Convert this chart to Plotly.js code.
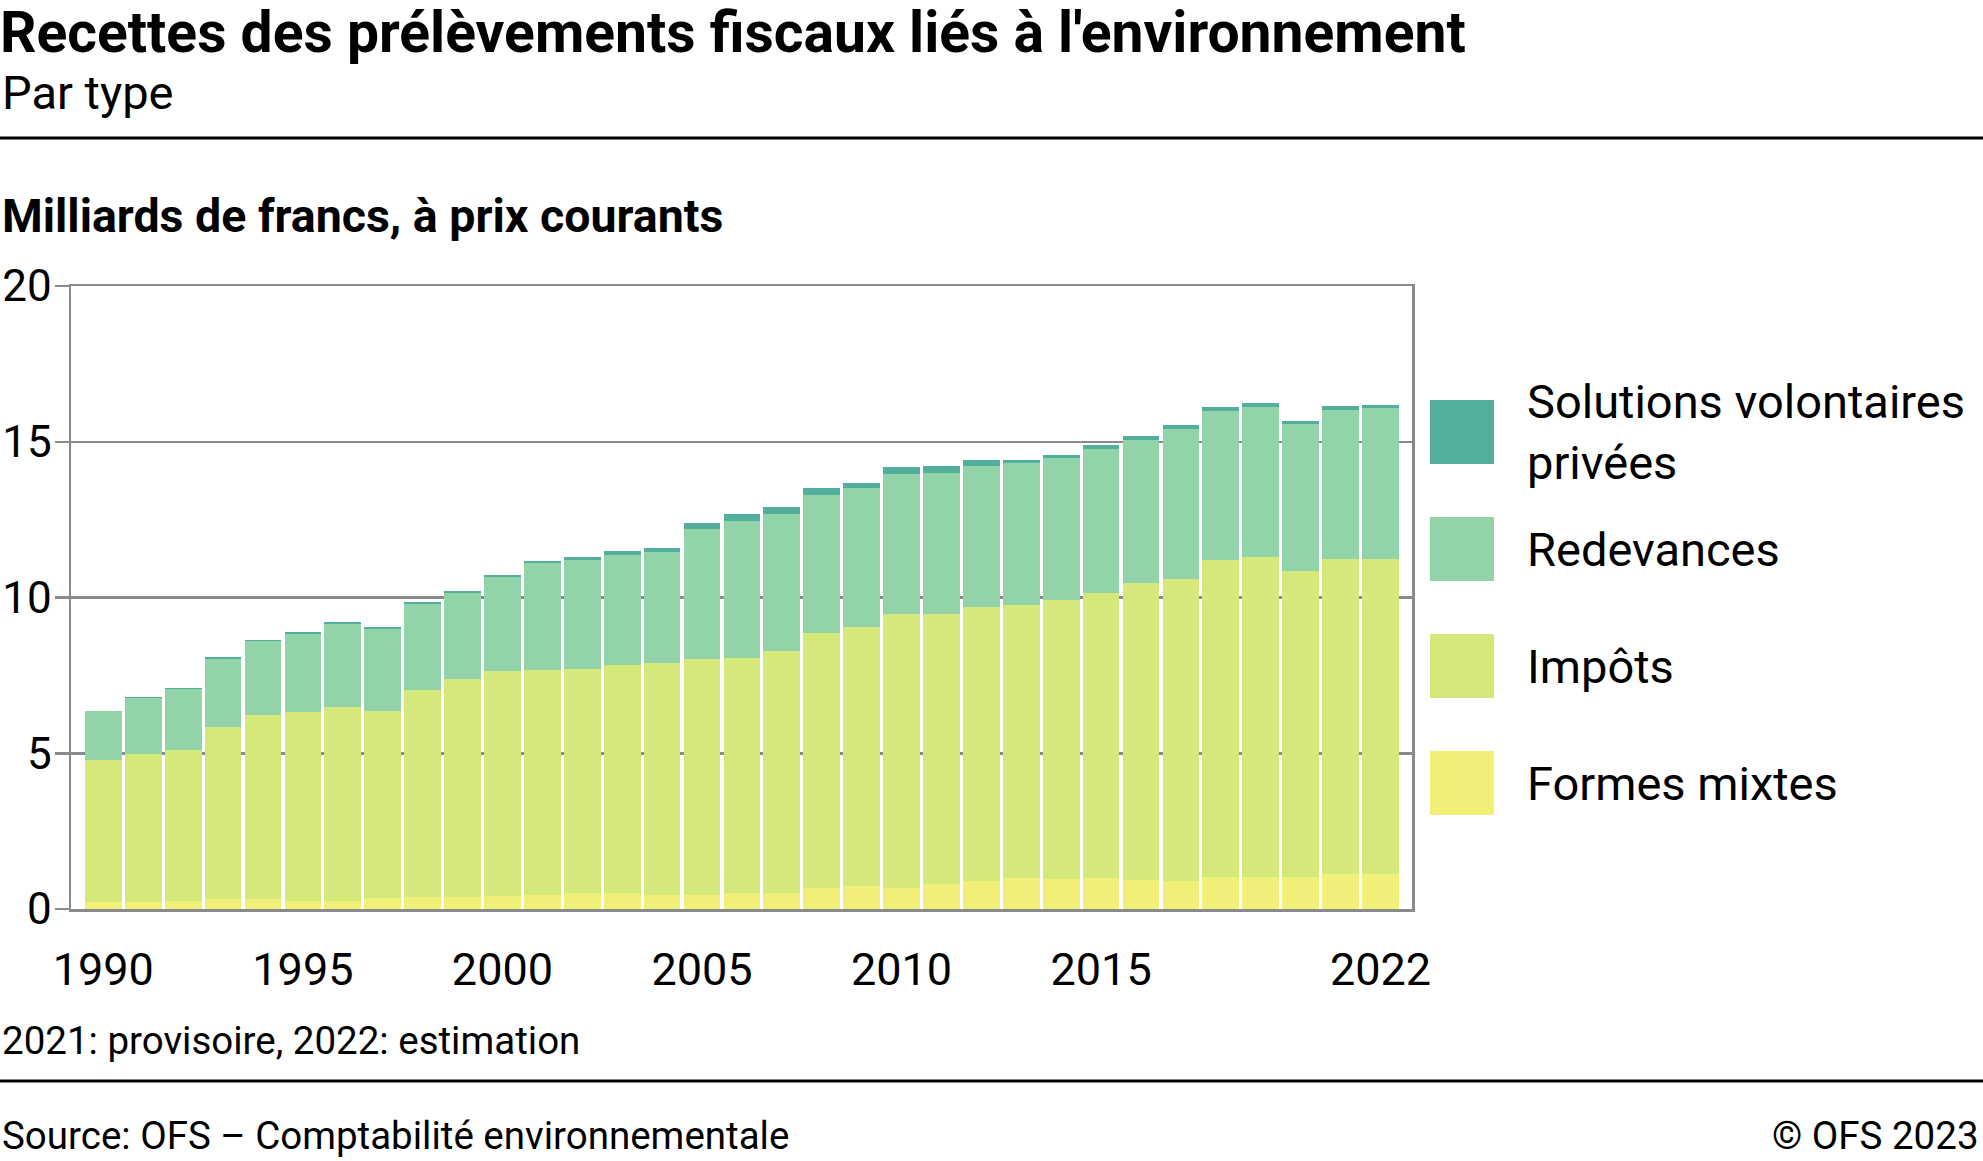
<!DOCTYPE html>
<html>
<head>
<meta charset="utf-8">
<script src="https://cdn.plot.ly/plotly-3.0.1.min.js"></script>
<style>
  html, body { margin: 0; padding: 0; background: #fff; }
  #chart { width: 1983px; height: 1161px; }
</style>
</head>
<body>
<div id="chart"></div>
<script>
// ---- Data (milliards de francs, à prix courants) ----
const years = [1990,1991,1992,1993,1994,1995,1996,1997,1998,1999,2000,2001,2002,2003,2004,2005,2006,2007,2008,2009,2010,2011,2012,2013,2014,2015,2016,2017,2018,2019,2020,2021,2022];
const formesMixtes = [0.23,0.24,0.27,0.31,0.31,0.27,0.27,0.34,0.37,0.39,0.42,0.46,0.50,0.50,0.46,0.46,0.50,0.50,0.67,0.73,0.69,0.79,0.89,1.00,0.96,1.00,0.93,0.89,1.04,1.04,1.02,1.11,1.11];
const impots = [4.54,4.73,4.84,5.54,5.92,6.05,6.22,6.01,6.67,6.98,7.22,7.22,7.21,7.34,7.44,7.57,7.56,7.79,8.20,8.33,8.79,8.69,8.81,8.75,8.95,9.16,9.52,9.69,10.16,10.27,9.84,10.13,10.13];
const redevances = [1.58,1.79,1.96,2.19,2.36,2.51,2.65,2.63,2.75,2.76,3.02,3.44,3.50,3.52,3.57,4.18,4.38,4.40,4.43,4.44,4.47,4.53,4.53,4.58,4.56,4.60,4.61,4.84,4.79,4.82,4.70,4.78,4.83];
const solutionsVolontaires = [0.02,0.03,0.04,0.06,0.06,0.07,0.08,0.08,0.07,0.07,0.05,0.05,0.10,0.14,0.13,0.18,0.25,0.23,0.23,0.19,0.23,0.21,0.18,0.10,0.11,0.12,0.11,0.12,0.12,0.12,0.12,0.13,0.12];

const seriesNames = ["Formes mixtes", "Impôts", "Redevances", "Solutions volontaires<br>privées"];
const seriesColors = ["#f0ef77", "#d4e97a", "#93d3a9", "#52af9e"];
const xTickVals = [1990, 1995, 2000, 2005, 2010, 2015, 2022];
const xTickText = ["1990", "1995", "2000", "2005", "2010", "2015", "2022"];
const yTickVals = [0, 5, 10, 15, 20];
const yTickText = ["0", "5", "10", "15", "20"];

const titleText = "Recettes des prélèvements fiscaux liés à l'environnement";
const subtitleText = "Par type";
const unitText = "Milliards de francs, à prix courants";
const noteText = "2021: provisoire, 2022: estimation";
const sourceText = "Source: OFS – Comptabilité environnementale";
const copyrightText = "© OFS 2023";

// ---- Layout geometry (pixels) ----
const FW = 1983, FH = 1161;
const L = 71, R = 1412, T = 286, B = 909;
const W = R - L, H = B - T;
const px = x => (x - L) / W;
const py = y => (B - y) / H;
const FONT = "Roboto, 'Noto Sans', sans-serif";
const GRID = "#8a8a8a";

const values = [formesMixtes, impots, redevances, solutionsVolontaires];
const traces = values.map((v, i) => ({
  type: "bar",
  x: years,
  y: v,
  name: seriesNames[i],
  marker: { color: seriesColors[i], line: { width: 0 } },
  showlegend: false,
  hoverinfo: "x+y+name"
}));

const annotations = [
  { text: subtitleText, x: px(0), y: py(92), xanchor: "left", yanchor: "middle", font: { size: 47, color: "#000", family: FONT } },
  { text: "<b>" + unitText + "</b>", x: px(0), y: py(216), xanchor: "left", yanchor: "middle", font: { size: 46.5, color: "#000", family: FONT } },
  { text: noteText, x: px(0), y: py(1040), xanchor: "left", yanchor: "middle", font: { size: 38.5, color: "#000", family: FONT } },
  { text: sourceText, x: px(0), y: py(1135), xanchor: "left", yanchor: "middle", font: { size: 38.5, color: "#000", family: FONT } },
  { text: copyrightText, x: px(1981), y: py(1135), xanchor: "right", yanchor: "middle", font: { size: 38.5, color: "#000", family: FONT } }
];

const shapes = [
  { type: "line", xref: "paper", yref: "paper", x0: px(0), x1: px(FW), y0: py(138), y1: py(138), line: { color: "#000", width: 3 } },
  { type: "line", xref: "paper", yref: "paper", x0: px(0), x1: px(FW), y0: py(1081), y1: py(1081), line: { color: "#000", width: 3 } }
];

// custom legend (top to bottom: Solutions, Redevances, Impôts, Formes)
const legTop = [400, 517, 634, 751];
const legOrder = [3, 2, 1, 0];
legOrder.forEach((si, k) => {
  const y0 = legTop[k], y1 = y0 + 64;
  shapes.push({ type: "rect", xref: "paper", yref: "paper", x0: px(1430), x1: px(1494), y0: py(y1), y1: py(y0), fillcolor: seriesColors[si], line: { width: 0 } });
  annotations.push({ text: seriesNames[si], x: px(1525), y: py((y0 + y1) / 2), xanchor: "left", yanchor: "middle", align: "left", font: { size: 47, color: "#000", family: FONT } });
});

annotations.forEach(a => { a.xref = "paper"; a.yref = "paper"; a.showarrow = false; });

const layout = {
  width: FW, height: FH,
  margin: { l: L, r: FW - R, t: T, b: FH - B, pad: 0 },
  paper_bgcolor: "#fff", plot_bgcolor: "#fff",
  font: { family: FONT, color: "#000" },
  title: {
    text: "<b>" + titleText + "</b>",
    xref: "container", yref: "container",
    x: 0, xanchor: "left", y: 1 - 32 / FH, yanchor: "middle",
    pad: { l: 0, t: 0 },
    font: { size: 57, color: "#000", family: FONT }
  },
  barmode: "stack",
  bargap: 0.08,
  xaxis: {
    range: [1989.19, 2022.79],
    tickvals: xTickVals, ticktext: xTickText,
    ticks: "", showgrid: false, zeroline: false,
    showline: true, linecolor: GRID, linewidth: 2.5, mirror: true,
    tickfont: { size: 45, color: "#000", family: FONT },
    ticklabelstandoff: 19,
    fixedrange: true
  },
  yaxis: {
    range: [0, 20],
    tickvals: yTickVals, ticktext: yTickText,
    ticks: "outside", ticklen: 14, tickwidth: 2.5, tickcolor: GRID,
    showgrid: true, gridcolor: GRID, gridwidth: 2.5,
    zeroline: false,
    showline: true, linecolor: GRID, linewidth: 2.5, mirror: true,
    tickfont: { size: 44, color: "#000", family: FONT },
    ticklabelstandoff: -6,
    fixedrange: true
  },
  annotations: annotations,
  shapes: shapes
};

Plotly.newPlot("chart", traces, layout, { displayModeBar: false, staticPlot: true });
</script>
</body>
</html>
